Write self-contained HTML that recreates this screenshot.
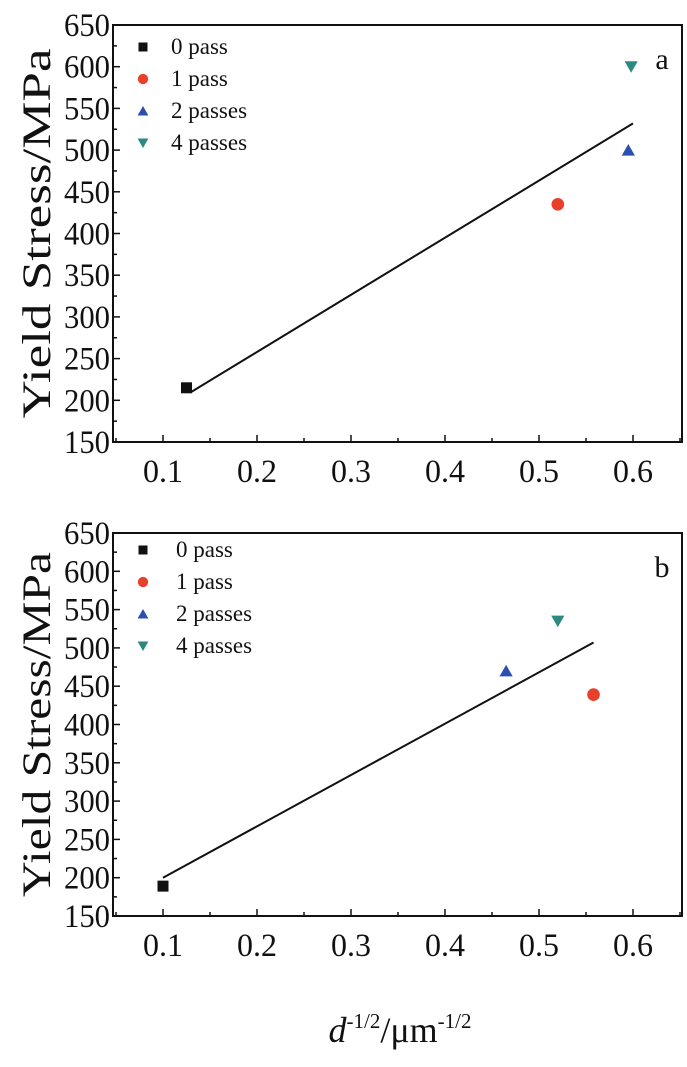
<!DOCTYPE html>
<html><head><meta charset="utf-8"><style>
body{margin:0;background:#fff;}
svg text{font-family:"Liberation Serif",serif;fill:#111;}
</style></head><body>
<svg id="c" width="687" height="1062" viewBox="0 0 687 1062" xmlns="http://www.w3.org/2000/svg"></svg>
<script>
const xTicks=[0.1,0.2,0.3,0.4,0.5,0.6];
const yTicks=[150,200,250,300,350,400,450,500,550,600,650];
const seriesNames=["0 pass","1 pass","2 passes","4 passes"];
const seriesColors=["#111","#e8402a","#2a4fb0","#2a8a80"];
const seriesShapes=["square","circle","up","down"];
const aX=[0.125,0.52,0.595,0.598];
const aY=[215,435,500,600];
const aLineX=[0.13,0.6];
const aLineY=[210,532];
const bX=[0.1,0.558,0.465,0.52];
const bY=[189,439,470,535];
const bLineX=[0.1,0.558];
const bLineY=[200,507];
const svg=document.getElementById('c');
const NS="http://www.w3.org/2000/svg";
function mk(t,a,p){const e=document.createElementNS(NS,t);for(const k in a)e.setAttribute(k,a[k]);(p||svg).appendChild(e);return e;}
function marker(g,shape,color,cx,cy,s){
  let e;
  if(shape==="square")e=mk('rect',{x:cx-s,y:cy-s,width:2*s,height:2*s,fill:color},g);
  else if(shape==="circle")e=mk('circle',{cx:cx,cy:cy,r:s*1.15,fill:color},g);
  else if(shape==="up")e=mk('polygon',{points:`${cx-s*1.2},${cy+s} ${cx+s*1.2},${cy+s} ${cx},${cy-s*1.1}`,fill:color},g);
  else e=mk('polygon',{points:`${cx-s*1.2},${cy-s} ${cx+s*1.2},${cy-s} ${cx},${cy+s*1.1}`,fill:color},g);
  return e;
}
function panel(id,top,bottom,xs,ys,lx,ly,letter,legX,legTop,titleLen){
  const L=113,R=682,x0=0.1,px0=163,step=940;
  const X=v=>px0+(v-x0)*step;
  const Y=v=>bottom-(v-150)/500*(bottom-top);
  const g=mk('g',{});
  
  
  const fr=mk('rect',{x:L,y:top,width:R-L,height:bottom-top,fill:'none',stroke:'#111','stroke-width':2},g);
  
  
  for(let v=0.05;v<=0.651;v+=0.05){const px=X(v);if(px<=L+1||px>=R-1)continue;
    const major=Math.abs(v*10-Math.round(v*10))<1e-6;
    mk('line',{x1:px,x2:px,y1:bottom,y2:bottom-(major?7:4),stroke:'#111','stroke-width':1.5},g);}
  xTicks.forEach(v=>{const t=mk('text',{x:X(v),y:bottom+40,'font-size':33,'text-anchor':'middle',textLength:40,lengthAdjust:'spacingAndGlyphs'},g);t.textContent=v.toFixed(1);
    
    });
  for(let v=175;v<650;v+=25){const py=Y(v);const major=v%50===0;
    mk('line',{x1:L,x2:L+(major?7:4),y1:py,y2:py,stroke:'#111','stroke-width':1.5},g);}
  yTicks.forEach(v=>{const t=mk('text',{x:L-3,y:Y(v)+11,'font-size':33,'text-anchor':'end',textLength:46,lengthAdjust:'spacingAndGlyphs'},g);t.textContent=v;
    
    });
  const yt=mk('text',{x:0,y:0,'font-size':40,'text-anchor':'middle',textLength:titleLen,lengthAdjust:'spacingAndGlyphs',transform:`translate(50,${(top+bottom)/2}) rotate(-90)`},g);
  yt.textContent='Yield Stress/MPa';
  
  
  const ln=mk('line',{x1:X(lx[0]),y1:Y(ly[0]),x2:X(lx[1]),y2:Y(ly[1]),stroke:'#111','stroke-width':2},g);
  
  
  xs.forEach((v,i)=>{const m=marker(g,seriesShapes[i],seriesColors[i],X(v),Y(ys[i]),5.5);
    
    });
  seriesNames.forEach((n,i)=>{const cy=legTop+i*32;
    const m=marker(g,seriesShapes[i],seriesColors[i],143,cy,4.5);
    
    
    const t=mk('text',{x:legX,y:cy+7,'font-size':23},g);t.textContent=n;
    
    });
  const lt=mk('text',{x:662,y:top+44,'font-size':30,'text-anchor':'middle'},g);lt.textContent=letter;
  
  
}
panel('a',25,442,aX,aY,aLineX,aLineY,'a',171,47,370);
panel('b',533,916,bX,bY,bLineX,bLineY,'b',176,550,345);
const xt=mk('text',{x:400,y:1042,'font-size':36,'text-anchor':'middle'});
xt.innerHTML='<tspan font-style="italic">d</tspan><tspan dy="-14" font-size="21">-1/2</tspan><tspan dy="14">/μm</tspan><tspan dy="-14" font-size="21">-1/2</tspan>';


</script>
</body></html>
